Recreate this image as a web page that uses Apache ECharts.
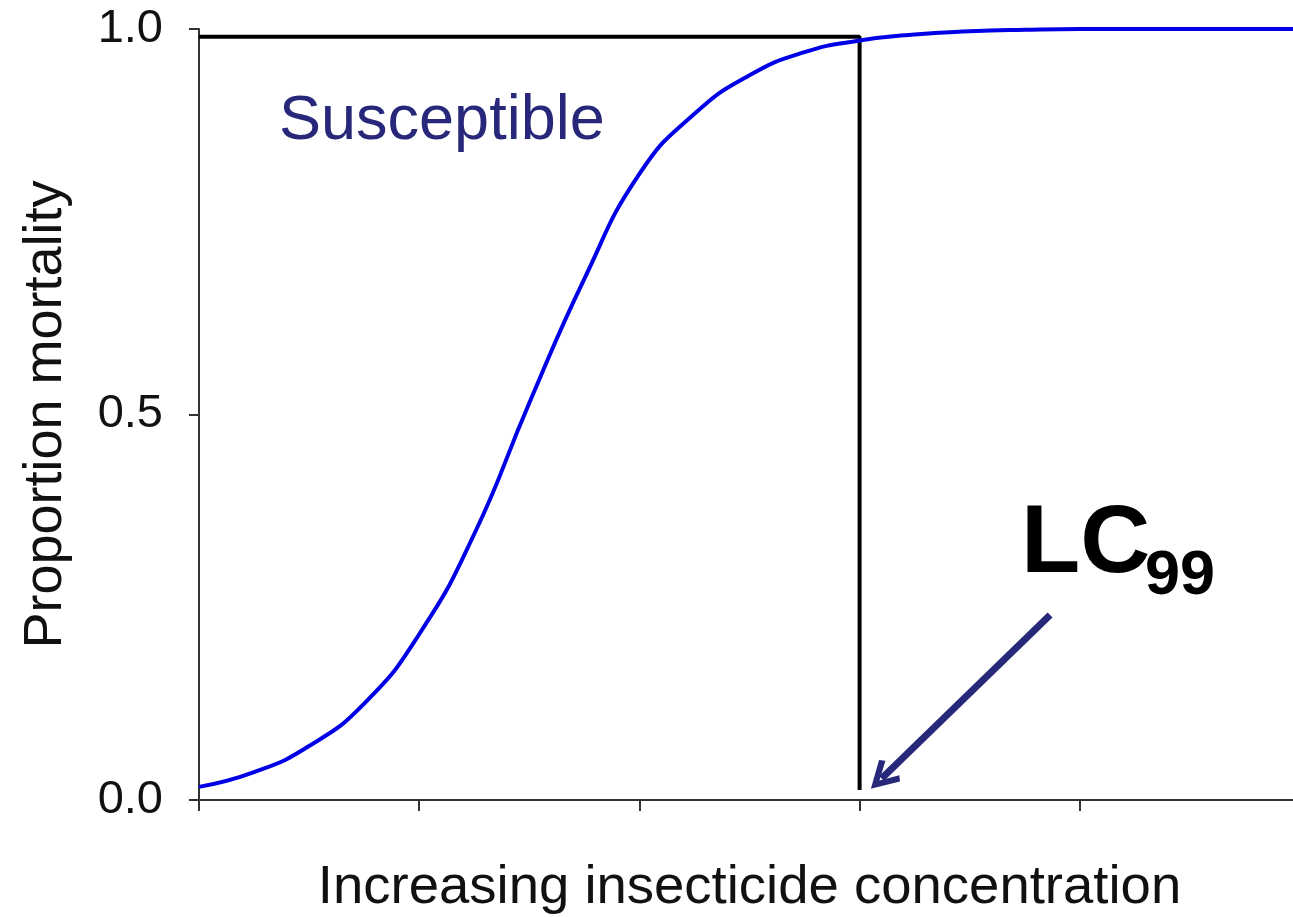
<!DOCTYPE html>
<html>
<head>
<meta charset="utf-8">
<script src="https://cdn.jsdelivr.net/npm/echarts@6/dist/echarts.min.js"></script>
<style>
  html, body { margin: 0; padding: 0; background: #fff; }
  #chart { width: 1293px; height: 917px; }
</style>
</head>
<body>
<div id="chart"></div>
<script>
// concentration (arbitrary units, 0..5) and mortality
const conc = [0, 0.25, 0.5, 0.75, 1.0, 1.25, 1.5, 1.75, 2.0, 2.25, 2.5, 2.75,
  3.0, 3.25, 3.5, 3.75, 4.0, 4.25, 4.5, 4.75, 5.0]
const mortality = [0.017, 0.036, 0.07, 0.125, 0.215, 0.345, 0.515, 0.676, 0.812, 0.89, 0.94, 0.97,
  0.985, 0.993, 0.997, 0.999, 1.0, 1.0, 1.0, 1.0, 1.0]

// LC99 guide: across at 0.99, then down to the axis
const lc99Guide = [[0, 0.99], [3, 0.99], [3, 0.013]]
// arrow from the label to the LC99 point
const arrowFrom = [3.865, 0.24]
const arrowTo = [3.1, 0.028]

const yTicks = [0, 0.5, 1]

const FONT = "'Liberation Sans', Arial, sans-serif"
const NAVY = '#27287a'

const chart = echarts.init(document.getElementById('chart'))

chart.setOption({
  animation: false,
  grid: { left: 199, top: 29, width: 1101, height: 771, outerBoundsMode: 'none', containLabel: false },
  xAxis: {
    type: 'value',
    min: 0,
    max: 5,
    interval: 1,
    name: 'Increasing insecticide concentration',
    nameLocation: 'middle',
    nameGap: 60,
    nameTextStyle: { fontFamily: FONT, fontSize: 54.5, color: '#111' },
    axisLine: { lineStyle: { color: '#333', width: 2 } },
    axisTick: { show: true, length: 11, lineStyle: { color: '#333', width: 2 } },
    axisLabel: { show: false },
    splitLine: { show: false },
  },
  yAxis: {
    type: 'value',
    min: 0,
    max: 1,
    interval: 0.5,
    name: 'Proportion mortality',
    nameLocation: 'middle',
    nameGap: 126,
    nameTextStyle: { fontFamily: FONT, fontSize: 54, color: '#111' },
    axisLine: { lineStyle: { color: '#333', width: 2 } },
    axisTick: { show: true, length: 10, lineStyle: { color: '#333', width: 2 } },
    axisLabel: {
      margin: 36,
      fontFamily: FONT,
      fontSize: 47,
      color: '#111',
      formatter: (v) => (yTicks.includes(v) ? v.toFixed(1) : ''),
    },
    splitLine: { show: false },
  },
  series: [
    {
      name: 'LC99 guide',
      type: 'line',
      data: lc99Guide,
      symbol: 'none',
      lineStyle: { color: '#000', width: 4 },
      z: 2,
    },
    {
      name: 'Susceptible',
      type: 'line',
      data: conc.map((c, i) => [c, mortality[i]]),
      smooth: 0.5,
      smoothConstraint: false,
      symbol: 'none',
      lineStyle: { color: '#0000e6', width: 4 },
      z: 3,
    },
    {
      name: 'arrow',
      type: 'lines',
      coordinateSystem: 'cartesian2d',
      symbol: ['none', 'path://M15,0 L30,26 L25,30 L15,12 L5,30 L0,26 Z'],
      symbolSize: [30, 30],
      lineStyle: { color: NAVY, width: 7, opacity: 1 },
      data: [{ coords: [arrowFrom, arrowTo] }],
      z: 4,
    },
  ],
  graphic: [
    {
      type: 'text',
      x: 279,
      y: 122,
      style: {
        text: 'Susceptible',
        font: `63px ${FONT}`,
        fill: NAVY,
        verticalAlign: 'middle',
      },
    },
    {
      type: 'text',
      x: 1021,
      y: 545,
      style: {
        text: 'LC',
        font: `bold 97px ${FONT}`,
        fill: '#000',
        verticalAlign: 'middle',
      },
    },
    {
      type: 'text',
      x: 1145,
      y: 577,
      style: {
        text: '99',
        font: `bold 63px ${FONT}`,
        fill: '#000',
        verticalAlign: 'middle',
      },
    },
  ],
})
</script>
</body>
</html>
